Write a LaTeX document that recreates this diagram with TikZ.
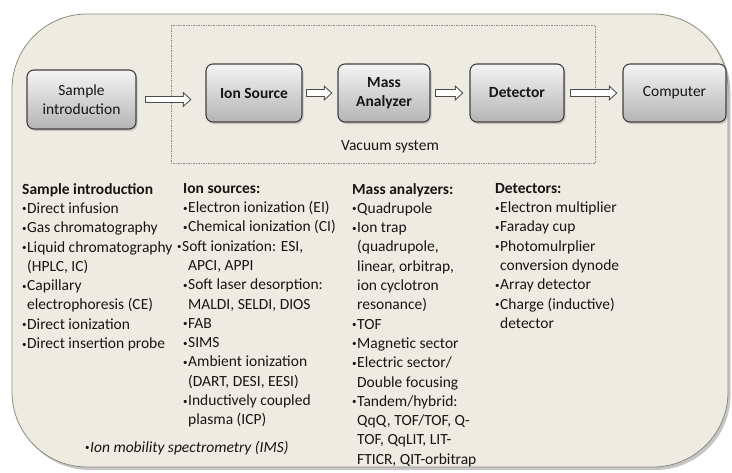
\documentclass[tikz,border=0pt]{standalone}
\usepackage{fontspec}
\setmainfont{Carlito}
\usetikzlibrary{arrows.meta,shadows}
\definecolor{panel}{HTML}{EEECE2}
\definecolor{panelline}{HTML}{8F8B78}
\definecolor{ink}{HTML}{161616}
\definecolor{boxtop}{HTML}{F4F4F4}
\definecolor{boxbottom}{HTML}{B4B4B4}
\newcommand\itm{\makebox[5pt][l]{\raisebox{1.5pt}{\fontsize{9}{9}\selectfont •}}}
\newcommand\cnt{\hspace*{5pt}}

\begin{document}
\begin{tikzpicture}[
x=1pt, y=-1pt,
font=\fontsize{15.5}{19.3}\selectfont,
stage/.style={draw=black!75, line width=1.1pt, rounded corners=7pt, top color=boxtop, bottom color=boxbottom,
  drop shadow={shadow xshift=1.5pt, shadow yshift=-2pt, opacity=.35}, align=center, text=ink, inner sep=2pt},
flow/.style={draw=black!70, line width=7.5pt, line cap=rect, -{Triangle[length=8.5pt,width=15pt]},
  postaction={draw=white, line width=5.5pt, line cap=rect, -{Triangle[length=6pt,width=10.6pt,sep=1.5pt]}}},
list/.style={anchor=north west, inner sep=0pt, align=left, text=ink}
]
    % Panel
    \useasboundingbox (0,0) rectangle (732,472);
    \fill [panel, draw=panelline, line width=0.8pt, rounded corners=75pt,
      drop shadow={shadow xshift=2.5pt, shadow yshift=-3pt, opacity=.45}] (12,14) rectangle (728,467);

    % Vacuum system
    \draw [black!45, line width=1pt, dash pattern=on 1.5pt off 1pt] (171,25) rectangle (595,163);
    \node (vac) at (390,147) [text=ink] {Vacuum system};

    % Stages
    \node (sample) at (81.5,99.5) [stage, minimum width=109, minimum height=59] {Sample\\introduction};
    \node (ion) at (254,93) [stage, minimum width=96, minimum height=58] {\textbf{Ion Source}};
    \node (mass) at (384,93) [stage, minimum width=92, minimum height=58] {\textbf{Mass}\\\textbf{Analyzer}};
    \node (det) at (517,93) [stage, minimum width=94, minimum height=58] {\textbf{Detector}};
    \node (comp) at (674.5,93) [stage, minimum width=103, minimum height=58] {Computer};

    \draw [flow, shorten <=12pt, shorten >=14pt] (sample.east) -- (sample.east -| ion.west);
    \draw [flow, shorten <=7pt, shorten >=5pt] (ion) -- (mass);
    \draw [flow, shorten <=8pt, shorten >=6pt] (mass) -- (det);
    \draw [flow, shorten <=9pt, shorten >=5pt] (det) -- (comp);

    % Lists
    \node (intro) at (22,183) [list] {\textbf{Sample introduction}\\
      \itm Direct infusion\\
      \itm Gas chromatography\\
      \itm Liquid chromatography\\
      \cnt (HPLC, IC)\\
      \itm Capillary\\
      \cnt electrophoresis (CE)\\
      \itm Direct ionization\\
      \itm Direct insertion probe};
    \node (sources) at (183,183) [list] {\textbf{Ion sources:}\\
      \itm Electron ionization (EI)\\
      \itm Chemical ionization (CI)\\
      \hspace*{-6pt}\itm Soft ionization: ESI,\\
      \cnt APCI, APPI\\
      \itm Soft laser desorption:\\
      \cnt MALDI, SELDI, DIOS\\
      \itm FAB\\
      \itm SIMS\\
      \itm Ambient ionization\\
      \cnt (DART, DESI, EESI)\\
      \itm Inductively coupled\\
      \cnt plasma (ICP)};
    \node (analyzers) at (352,183) [list] {\textbf{Mass analyzers:}\\
      \itm Quadrupole\\
      \itm Ion trap\\
      \cnt (quadrupole,\\
      \cnt linear, orbitrap,\\
      \cnt ion cyclotron\\
      \cnt resonance)\\
      \itm TOF\\
      \itm Magnetic sector\\
      \itm Electric sector/\\
      \cnt Double focusing\\
      \itm Tandem/hybrid:\\
      \cnt QqQ, TOF/TOF, Q-\\
      \cnt TOF, QqLIT, LIT-\\
      \cnt FTICR, QIT-orbitrap};
    \node (detectors) at (495,183) [list] {\textbf{Detectors:}\\
      \itm Electron multiplier\\
      \itm Faraday cup\\
      \itm Photomulrplier\\
      \cnt conversion dynode\\
      \itm Array detector\\
      \itm Charge (inductive)\\
      \cnt detector};
    \node (ims) at (85,448) [anchor=west, inner sep=0pt, text=ink] {\itm\textit{Ion mobility spectrometry (IMS)}};
\end{tikzpicture}
\end{document}
